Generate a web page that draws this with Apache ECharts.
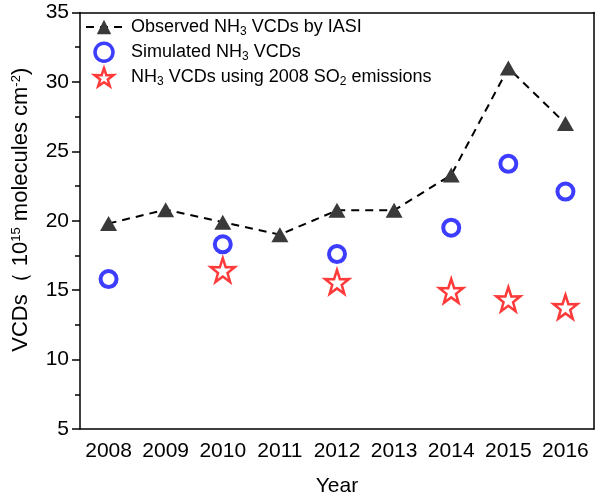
<!DOCTYPE html>
<html>
<head>
<meta charset="utf-8">
<script src="https://cdn.jsdelivr.net/npm/echarts@6/dist/echarts.min.js"></script>
<style>html,body{margin:0;padding:0;background:#fff}#c{width:600px;height:499px}</style>
</head>
<body>
<div id="c"></div>
<script>
var years = ['2008','2009','2010','2011','2012','2013','2014','2015','2016'];
var observed = [19.8, 20.8, 19.9, 19.0, 20.75, 20.75, 23.3, 31.0, 27.0];
var simulated = [15.8, null, 18.3, null, 17.6, null, 19.5, 24.1, 22.1];
var so2fixed = [null, null, 16.45, null, 15.6, null, 14.95, 14.35, 13.8];
var yTicks = [5, 10, 15, 20, 25, 30, 35];

var FONT = 'Liberation Sans, Arial, sans-serif';
var starPath = 'path://M50,0 L61.8,35.1 L98.1,34.5 L69.1,56.7 L79.4,90.5 L50,70 L20.6,90.5 L30.9,56.7 L1.9,34.5 L38.2,35.1 Z';
var chart = echarts.init(document.getElementById('c'));
var rich = {
  t: {fontSize: 18, fontFamily: FONT, color: '#000'},
  sub: {fontSize: 12, fontFamily: FONT, color: '#000', verticalAlign: 'bottom', padding: [9, 0, 0, 0]}
};
var legendText = {
  'Observed': '{t|Observed NH}{sub|3}{t| VCDs by IASI}',
  'Simulated': '{t|Simulated NH}{sub|3}{t| VCDs}',
  'SO2': '{t|NH}{sub|3}{t| VCDs using 2008 SO}{sub|2}{t| emissions}'
};
var frameLine = {show: true, lineStyle: {color: '#000', width: 1.5}};
chart.setOption({
  animation: false,
  grid: {left: 80, right: 6, top: 12.5, bottom: 70, containLabel: false, outerBoundsMode: 'none'},
  legend: {
    orient: 'vertical', left: 85, top: 18, padding: 0, itemGap: 4, itemWidth: 36, itemHeight: 18,
    data: [
      {name: 'Observed'},
      {name: 'Simulated', itemStyle: {borderWidth: 3.5}},
      {name: 'SO2', itemStyle: {borderWidth: 2.5}}
    ],
    formatter: function (n) { return legendText[n]; },
    textStyle: {rich: rich, fontSize: 18, fontFamily: FONT, padding: [0, 0, 0, 4]}
  },
  xAxis: [{
    type: 'category', data: years, boundaryGap: true,
    name: 'Year', nameLocation: 'middle', nameGap: 47,
    nameTextStyle: {fontSize: 21, fontFamily: FONT, color: '#000'},
    axisLine: frameLine,
    axisTick: {alignWithLabel: true, inside: false, length: 8, lineStyle: {color: '#000', width: 1.5}},
    axisLabel: {interval: 0, fontSize: 21, fontFamily: FONT, color: '#000', margin: 12}
  }, {
    type: 'category', data: years, position: 'top', boundaryGap: true,
    axisLine: frameLine, axisTick: {show: false}, axisLabel: {show: false}
  }],
  yAxis: [{
    type: 'value', min: 5, max: 35, interval: 5,
    name: '{a|VCDs（ 10}{sup|15}{a| molecules cm}{sup|-2}{a|)}',
    nameLocation: 'middle', nameGap: 48, nameRotate: 90,
    nameTextStyle: {padding: [0, 0, 0, 22], rich: {
      a: {fontSize: 22, fontFamily: FONT, color: '#000'},
      sup: {fontSize: 13, fontFamily: FONT, color: '#000', verticalAlign: 'top', padding: [0, 0, 9, 0]}
    }},
    axisLine: frameLine,
    axisTick: {show: true, inside: false, length: 8, lineStyle: {color: '#000', width: 1.5}},
    minorTick: {show: true, splitNumber: 2, length: 5, lineStyle: {color: '#000', width: 1.5}},
    splitLine: {show: false},
    axisLabel: {fontSize: 21, fontFamily: FONT, color: '#000', margin: 11}
  }, {
    type: 'value', min: 5, max: 35, interval: 5, position: 'right',
    axisLine: frameLine, axisTick: {show: false}, axisLabel: {show: false}, splitLine: {show: false}
  }],
  series: [{
    name: 'Observed', type: 'line', data: observed,
    symbol: 'triangle', symbolSize: [17, 15],
    itemStyle: {color: '#3a3a3a'},
    lineStyle: {color: '#000', width: 2, type: [8, 6]},
    z: 3
  }, {
    name: 'Simulated', type: 'scatter', data: simulated,
    symbol: 'circle', symbolSize: 16,
    itemStyle: {color: '#fff', borderColor: '#3d3dff', borderWidth: 4, opacity: 1},
    z: 4
  }, {
    name: 'SO2', type: 'scatter', data: so2fixed,
    symbol: starPath, symbolSize: 24,
    itemStyle: {color: '#fff', borderColor: '#ff3a3a', borderWidth: 2.5, opacity: 1},
    z: 4
  }]
});
</script>
</body>
</html>
